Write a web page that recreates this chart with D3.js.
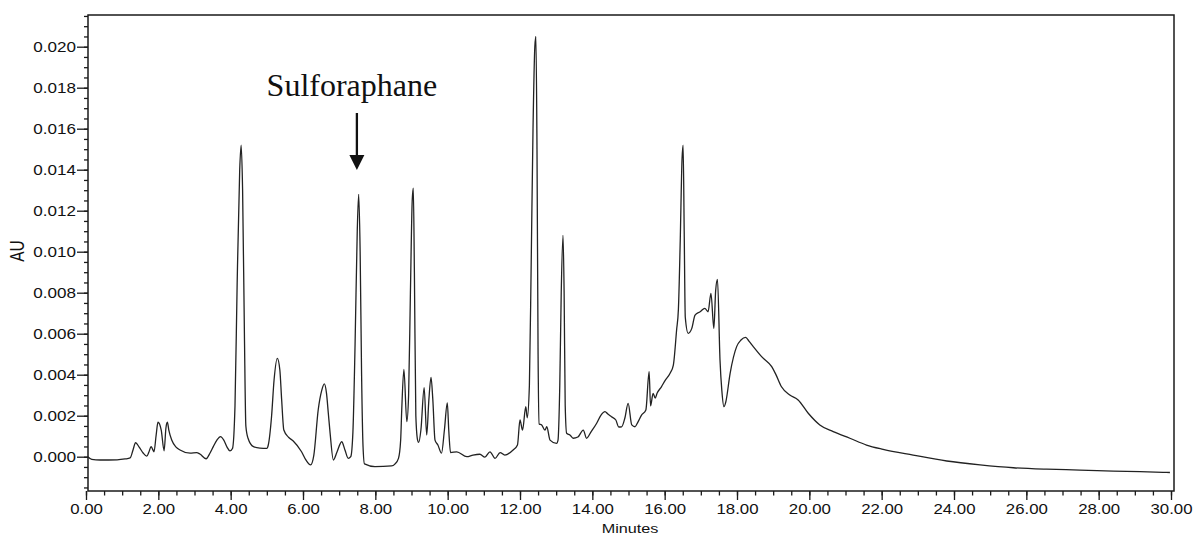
<!DOCTYPE html>
<html>
<head>
<meta charset="utf-8">
<script src="https://cdn.jsdelivr.net/npm/d3@7/dist/d3.min.js"></script>
<style>
  html, body { margin: 0; padding: 0; background: #fff; }
  svg { display: block; }
  .tick text { font-family: "Liberation Sans", Arial, sans-serif; font-size: 14px; fill: #111; }
</style>
</head>
<body>
<svg id="chart" width="1195" height="536"></svg>
<script>
// ---- data ----
const retentionTime = [
  0.05,0.16,0.39,0.86,1.08,1.22,1.30,1.37,1.47,1.58,1.68,1.74,1.80,1.85,1.88,1.94,1.99,2.08,2.16,2.21,2.25,2.29,2.37,2.49,2.60,2.88,3.06,3.15,3.32,3.43,3.52,3.62,3.72,3.81,3.90,3.98,
  4.05,4.12,4.18,4.25,4.29,4.33,4.38,4.42,4.48,4.63,4.81,5.00,5.04,5.13,5.20,5.29,5.36,5.41,5.47,5.60,5.73,5.96,6.08,6.21,6.30,6.42,6.52,6.59,6.65,6.70,6.75,6.84,6.94,7.07,7.16,7.25,
  7.32,7.38,7.44,7.50,7.54,7.58,7.62,7.66,7.70,7.99,8.45,8.54,8.64,8.70,8.73,8.79,8.87,8.92,8.97,9.02,9.05,9.08,9.12,9.17,9.20,9.26,9.35,9.42,9.48,9.54,9.59,9.65,9.73,9.83,9.91,9.99,10.03,10.08,
  10.25,10.53,10.70,10.89,11.03,11.17,11.31,11.45,11.58,11.81,11.93,12.00,12.07,12.16,12.20,12.26,12.31,12.36,12.41,12.44,12.47,12.50,12.53,12.60,12.69,12.74,12.83,13.01,
  13.05,13.10,13.14,13.19,13.22,13.25,13.29,13.38,13.47,13.60,13.75,13.84,13.96,14.12,14.24,14.35,14.43,14.53,14.65,14.73,14.81,14.90,14.99,15.09,15.18,15.26,15.36,15.48,
  15.57,15.61,15.68,15.74,15.79,15.91,16.01,16.15,16.24,16.33,16.38,16.43,16.48,16.51,16.54,16.57,16.65,16.75,16.84,16.98,17.11,17.20,17.28,17.36,17.41,17.46,17.53,17.58,17.64,17.69,
  17.81,17.99,18.11,18.24,18.33,18.45,18.68,18.96,19.07,19.23,19.46,19.69,19.97,20.29,20.66,21.12,21.58,22.04,22.87,23.80,24.72,25.64,26.56,27.48,28.40,29.78,29.97
];
const absorbance = [
  0.0000,-0.00013,-0.00016,-0.00015,-0.00011,-0.00006,0.00033,0.00068,0.00047,0.00018,0.00003,0.00023,0.00049,0.00033,0.00024,0.00106,0.00168,0.0013,0.00029,0.0014,0.00168,0.0013,0.00081,0.00047,0.00033,0.00017,0.0002,0.00013,-0.0001,0.00018,0.00049,0.00081,0.00098,0.00081,0.00047,0.00028,
  0.0004,0.0025,0.0085,0.0140,0.0152,0.0130,0.0060,0.0015,0.0009,0.00049,0.00042,0.00041,0.00057,0.00195,0.00374,0.0048,0.00423,0.00277,0.0013,0.00095,0.00077,0.00024,-0.00016,-0.0004,0.00008,0.00228,0.00325,0.00355,0.00309,0.00212,0.00114,-0.00016,0.00023,0.00073,0.00033,-0.00008,
  0.0000,0.0012,0.0055,0.0110,0.0128,0.0100,0.0040,0.0005,-0.00035,-0.00048,-0.00045,-0.00036,-0.00008,0.0008,0.00228,0.00426,0.00171,0.0030,0.0080,0.0125,0.0131,0.0090,0.0020,0.0008,0.0007,0.0013,0.00337,0.00106,0.00277,0.00387,0.00277,0.00081,0.00057,0.00017,0.0013,0.00263,0.0013,0.0002,
  0.00024,0.0,0.00008,0.00012,-0.00002,0.00024,-0.00008,0.0002,0.00008,0.00033,0.00057,0.00179,0.0013,0.00244,0.0019,0.0035,0.0095,0.0160,0.0200,0.0205,0.0150,0.0050,0.0016,0.00155,0.0013,0.00146,0.00081,0.00065,
  0.0008,0.0035,0.0080,0.0108,0.0080,0.0025,0.00114,0.00106,0.0009,0.00096,0.0013,0.0009,0.0012,0.00163,0.00203,0.0022,0.00208,0.00195,0.00179,0.00145,0.00146,0.00189,0.0026,0.00155,0.00146,0.00169,0.00203,0.00228,
  0.00415,0.00248,0.00309,0.00286,0.00309,0.00341,0.00371,0.00407,0.00447,0.00618,0.0072,0.0105,0.0145,0.0152,0.0110,0.0068,0.00602,0.00626,0.00691,0.00707,0.00724,0.00707,0.00797,0.00626,0.0081,0.00865,0.00472,0.00325,0.00244,0.00267,
  0.00407,0.00537,0.00569,0.00582,0.00564,0.00537,0.00488,0.00439,0.00403,0.00341,0.00301,0.00277,0.00212,0.00155,0.00122,0.0009,0.00057,0.00036,0.00008,-0.00021,-0.0004,-0.00054,-0.00061,-0.00065,-0.0007,-0.00076,-0.00077
];
const xMajorTicks = [0,2,4,6,8,10,12,14,16,18,20,22,24,26,28,30];
const yMajorTicks = [0,0.002,0.004,0.006,0.008,0.010,0.012,0.014,0.016,0.018,0.020];
const xLabel = "Minutes";
const yLabel = "AU";
const peakLabel = "Sulforaphane";
const peakTime = 7.49;

// ---- layout ----
const svg = d3.select("#chart");
const frame = { left: 88, right: 1174, top: 15, bottom: 491 };
const x = d3.scaleLinear().domain([0, 30]).range([86, 1171]);
const y = d3.scaleLinear().domain([0, 0.02]).range([456.7, 46.7]);

const yMin = y.invert(frame.bottom), yMax = y.invert(frame.top);
const yMinor = d3.range(Math.ceil(yMin / 0.0005), Math.floor(yMax / 0.0005) + 1).map(i => i * 0.0005);
const xMinor = d3.range(0, 61).map(i => i * 0.5);

// frame
svg.append("rect")
  .attr("x", frame.left).attr("y", frame.top)
  .attr("width", frame.right - frame.left).attr("height", frame.bottom - frame.top)
  .attr("fill", "none").attr("stroke", "#1a1a1a").attr("stroke-width", 1.5);

// y axis minor ticks
svg.append("g").attr("transform", `translate(${frame.left},0)`)
  .call(d3.axisLeft(y).tickValues(yMinor).tickSize(4).tickFormat(""))
  .call(g => g.select(".domain").remove())
  .selectAll("line").attr("stroke", "#1a1a1a").attr("stroke-width", 1.3);

// y axis major ticks
svg.append("g").attr("transform", `translate(${frame.left},0)`)
  .call(d3.axisLeft(y).tickValues(yMajorTicks).tickSize(11).tickPadding(1).tickFormat(d3.format(".3f")))
  .call(g => g.select(".domain").remove())
  .call(g => g.selectAll("line").attr("stroke", "#1a1a1a").attr("stroke-width", 1.3))
  .call(g => g.selectAll("text").attr("x", 0).attr("transform", "translate(-12,0) scale(1.22,1)"));

// x axis minor ticks
svg.append("g").attr("transform", `translate(0,${frame.bottom})`)
  .call(d3.axisBottom(x).tickValues(xMinor).tickSize(4.5).tickFormat(""))
  .call(g => g.select(".domain").remove())
  .selectAll("line").attr("stroke", "#1a1a1a").attr("stroke-width", 1.3);

// x axis major ticks
svg.append("g").attr("transform", `translate(0,${frame.bottom})`)
  .call(d3.axisBottom(x).tickValues(xMajorTicks).tickSize(9).tickPadding(4).tickFormat(d3.format(".2f")))
  .call(g => g.select(".domain").remove())
  .call(g => g.selectAll("line").attr("stroke", "#1a1a1a").attr("stroke-width", 1.3))
  .call(g => g.selectAll("text").attr("transform", "scale(1.2,1)"));

// axis titles
svg.append("text")
  .attr("transform", "translate(630,533) scale(1.2,1)")
  .attr("text-anchor", "middle")
  .attr("font-family", "Liberation Sans, Arial, sans-serif")
  .attr("font-size", 13.5).attr("fill", "#111")
  .text(xLabel);

svg.append("text")
  .attr("transform", "translate(17,251) rotate(-90) scale(1,1.25)")
  .attr("text-anchor", "middle").attr("dy", "0.36em")
  .attr("font-family", "Liberation Sans, Arial, sans-serif")
  .attr("font-size", 15.5).attr("fill", "#111")
  .text(yLabel);

// chromatogram trace
const pts = retentionTime.map((t, i) => [t, absorbance[i]]);
svg.append("path")
  .datum(pts)
  .attr("fill", "none")
  .attr("stroke", "#222")
  .attr("stroke-width", 1.3)
  .attr("stroke-linejoin", "round")
  .attr("d", d3.line().x(d => x(d[0])).y(d => y(d[1])).curve(d3.curveMonotoneX));

// annotation
const ax = x(peakTime);
svg.append("text")
  .attr("x", ax - 5).attr("y", 96)
  .attr("text-anchor", "middle")
  .attr("font-family", "Liberation Serif, 'Times New Roman', serif")
  .attr("font-size", 32).attr("fill", "#111")
  .text(peakLabel);
svg.append("line")
  .attr("x1", ax).attr("x2", ax).attr("y1", 113).attr("y2", 157)
  .attr("stroke", "#111").attr("stroke-width", 2.3);
svg.append("path")
  .attr("d", `M${ax - 7.5},155 L${ax + 7.5},155 L${ax},170 Z`)
  .attr("fill", "#111");
</script>
</body>
</html>
